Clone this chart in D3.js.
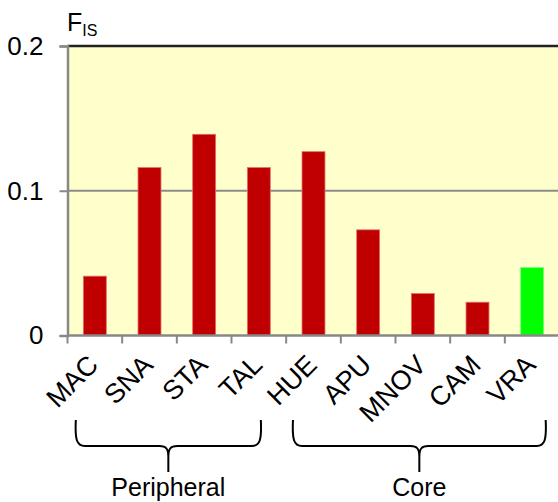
<!DOCTYPE html>
<html>
<head>
<meta charset="utf-8">
<script src="https://cdn.jsdelivr.net/npm/d3@7"></script>
<style>
  html, body { margin: 0; padding: 0; background: #fff; }
  svg { display: block; font-family: Arial, "Liberation Sans", sans-serif; }
</style>
</head>
<body>
<svg id="chart" width="558" height="502"></svg>
<script>
// Inbreeding coefficient (F_IS) per population
const populations = ["MAC", "SNA", "STA", "TAL", "HUE", "APU", "MNOV", "CAM", "VRA"];
const fisValues   = [0.041, 0.116, 0.139, 0.116, 0.127, 0.073, 0.029, 0.023, 0.047];
const barColors   = ["#C00000", "#C00000", "#C00000", "#C00000", "#C00000", "#C00000", "#C00000", "#C00000", "#00FF00"];
const yTicks      = [0, 0.1, 0.2];
const yTickLabels = ["0", "0.1", "0.2"];
const groupNames  = ["Peripheral", "Core"];
const groupFirst  = ["MAC", "HUE"];
const groupLast   = ["TAL", "VRA"];

const svg = d3.select("#chart");
const plotLeft = 67.5, plotRight = 559.5, plotTop = 46, plotBottom = 335.5;

const x = d3.scaleBand().domain(populations).range([plotLeft, plotRight]).paddingInner(0.58).paddingOuter(0.29);
const xTickScale = d3.scaleLinear().domain([0, populations.length]).range([plotLeft, plotRight]);
const y = d3.scaleLinear().domain([0, 0.2]).range([plotBottom, plotTop]);
const center = d => x(d) + x.bandwidth() / 2;

// plot background
svg.append("rect")
  .attr("x", plotLeft).attr("y", plotTop)
  .attr("width", plotRight - plotLeft).attr("height", plotBottom - plotTop)
  .attr("fill", "#FFFFCC");

// horizontal gridline(s)
svg.append("g").selectAll("line")
  .data(yTicks.filter(d => d > 0 && d < 0.2))
  .join("line")
  .attr("x1", plotLeft).attr("x2", plotRight)
  .attr("y1", d => y(d)).attr("y2", d => y(d))
  .attr("stroke", "#8c8c8c").attr("stroke-width", 2);

// bars
svg.append("g").selectAll("rect")
  .data(populations)
  .join("rect")
  .attr("x", d => x(d))
  .attr("y", (d, i) => y(fisValues[i]))
  .attr("width", x.bandwidth())
  .attr("height", (d, i) => y(0) - y(fisValues[i]))
  .attr("fill", (d, i) => barColors[i])
  .attr("stroke", (d, i) => i === populations.length - 1 ? "#7fff7f" : "#e07070")
  .attr("stroke-width", 0.8);

// top border
svg.append("line")
  .attr("x1", plotLeft).attr("x2", plotRight)
  .attr("y1", plotTop).attr("y2", plotTop)
  .attr("stroke", "#222").attr("stroke-width", 2.5);

// y axis
const yAxis = d3.axisLeft(y).tickValues(yTicks).tickFormat((d, i) => yTickLabels[i]).tickSize(8).tickPadding(16);
const yg = svg.append("g").attr("transform", `translate(${plotLeft},0)`).call(yAxis);
yg.select(".domain").attr("stroke", "#888").attr("stroke-width", 2.5);
yg.selectAll(".tick line").attr("stroke", "#888").attr("stroke-width", 2);
yg.selectAll(".tick text").attr("font-size", 26).attr("fill", "#000")
  .attr("font-family", "Arial, 'Liberation Sans', sans-serif");

// x axis line with category separator ticks
const xg = svg.append("g");
xg.append("line")
  .attr("x1", plotLeft).attr("x2", plotRight)
  .attr("y1", plotBottom).attr("y2", plotBottom)
  .attr("stroke", "#888").attr("stroke-width", 2.5);
xg.selectAll("line.sep")
  .data(d3.range(populations.length + 1))
  .join("line").attr("class", "sep")
  .attr("x1", d => xTickScale(d)).attr("x2", d => xTickScale(d))
  .attr("y1", plotBottom).attr("y2", plotBottom + 8)
  .attr("stroke", "#888").attr("stroke-width", 2);

// rotated category labels
svg.append("g").selectAll("text")
  .data(populations)
  .join("text")
  .attr("transform", d => `translate(${center(d) + 5},${plotBottom + 31}) rotate(-45)`)
  .attr("text-anchor", "end")
  .attr("font-size", 27)
  .attr("fill", "#000")
  .text(d => d);

// axis title F_IS
const title = svg.append("text").attr("x", 67).attr("y", 31).attr("font-size", 25).attr("fill", "#000");
title.append("tspan").text("F");
title.append("tspan").attr("font-size", 16).attr("dy", 5).text("IS");

// group braces
function bracePath(x0, x1, yTop, yMid, yTip) {
  const xm = (x0 + x1) / 2, r = 9;
  return `M${x0},${yTop} C${x0 - 1},${yMid - 6} ${x0 + 1},${yMid} ${x0 + r},${yMid}` +
         ` L${xm - r},${yMid} C${xm - 2},${yMid} ${xm},${yMid + 3} ${xm},${yMid + r + 2}` +
         ` L${xm},${yTip}` +
         ` M${xm},${yMid + r + 2} C${xm},${yMid + 3} ${xm + 2},${yMid} ${xm + r},${yMid}` +
         ` L${x1 - r},${yMid} C${x1 - 1},${yMid} ${x1 + 1},${yMid - 6} ${x1},${yTop}`;
}
const braceStartOffset = [-19, -20.5];
const braceEndOffset = [2, 13.5];
const braceG = svg.append("g");
groupNames.forEach((name, i) => {
  const x0 = center(groupFirst[i]) + braceStartOffset[i];
  const x1 = center(groupLast[i]) + braceEndOffset[i];
  braceG.append("path")
    .attr("d", bracePath(x0, x1, 420, 446, 472))
    .attr("fill", "none").attr("stroke", "#000").attr("stroke-width", 2);
  braceG.append("text")
    .attr("x", (x0 + x1) / 2).attr("y", 496)
    .attr("text-anchor", "middle").attr("font-size", 25).attr("fill", "#000")
    .text(name);
});
</script>
</body>
</html>
